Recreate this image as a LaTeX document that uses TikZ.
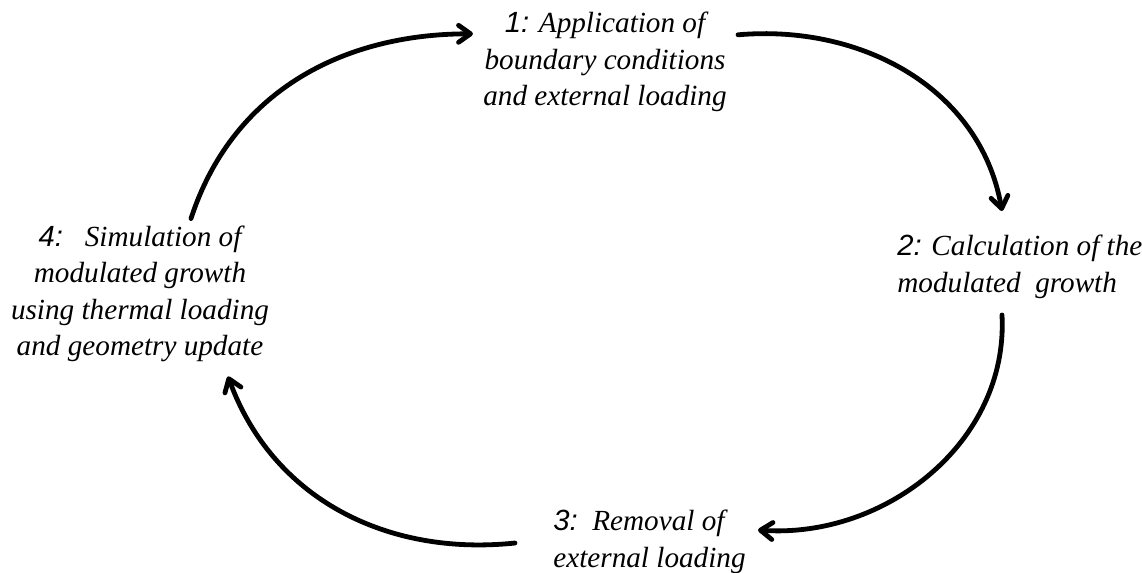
\documentclass[tikz,border=0pt]{standalone}
\usepackage{fontspec}
\setmainfont{Liberation Serif}
\newfontfamily\numfont{Liberation Sans}
\usetikzlibrary{arrows.meta}
\newcommand{\stepno}[1]{{\numfont\itshape #1}}

\begin{document}
\begin{tikzpicture}[
    x=0.5pt, y=-0.5pt,
    punkt/.style = {inner sep=0pt, font=\fontsize{14.6}{18.2}\selectfont\itshape},
    pil/.style = {black, line width=2.4pt, line cap=round,
                  -{Straight Barb[length=6pt,width=8.5pt,round]}}
    ]
  \useasboundingbox (0,0) rectangle (1142,573);

  \node[punkt, align=center] (s1) at (605,62)
    {\stepno{1:} Application of\\boundary conditions\\and external loading} ;
  \node[punkt, align=left, anchor=west] (s2) at (897,267)
    {\stepno{2:} Calculation of the\\modulated\ \ growth} ;
  \node[punkt, align=left, anchor=west] (s3) at (553,542)
    {\stepno{3:}\ \ Removal of\\external loading} ;
  \node[punkt, align=center] (s4) at (140,294)
    {\stepno{4:}\ \ \ Simulation of\\modulated growth\\using thermal loading\\and geometry update} ;

  \draw[pil]
  ([shift={(51,-7)}]s4.north) to[out=72, in=180] ([shift={(-10,22)}]s1.north west) ;
  \draw[pil]
  ([shift={(11,23)}]s1.north east) to[out=5, in=100] ([shift={(105,-24)}]s2.north west) ;
  \draw[pil]
  ([shift={(105,16)}]s2.south west) to[out=-87, in=-4] ([shift={(205,20)}]s3.north west) ;
  \draw[pil]
  ([shift={(-38,33)}]s3.north west) to[out=186, in=-70] ([shift={(88,14)}]s4.south) ;
\end{tikzpicture}
\end{document}
